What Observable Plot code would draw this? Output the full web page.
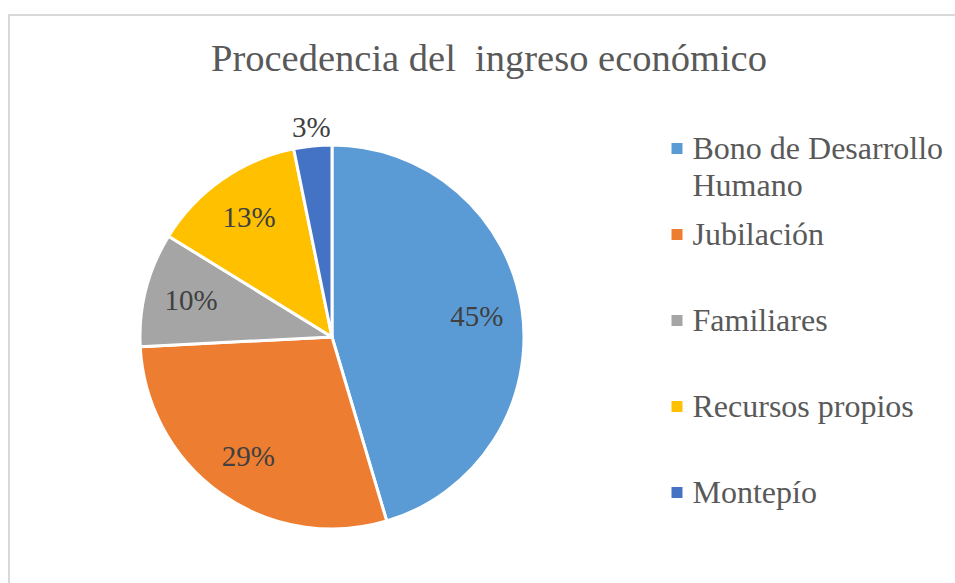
<!DOCTYPE html>
<html><head><meta charset="utf-8">
<script src="https://cdn.jsdelivr.net/npm/d3@7"></script>
<script src="https://cdn.jsdelivr.net/npm/@observablehq/plot@0.6"></script>
<style>
body{margin:0;background:#fff;}
#wrap{position:relative;width:955px;height:583px;overflow:hidden;background:#fff;}
#frame{position:absolute;left:8px;top:14px;width:1000px;height:700px;border:2px solid #d9d9d9;box-sizing:border-box;}
#title{position:absolute;left:0;top:39px;width:978px;text-align:center;font-family:"Liberation Serif","Times New Roman",Times,serif;font-size:38.5px;line-height:1;color:#595959;white-space:pre;}
#pie,#legend{position:absolute;top:0;}
#pie{left:0;} #legend{left:660px;}
#wrap svg text{font-family:"Liberation Serif","Times New Roman",Times,serif !important;}
</style></head><body>
<div id="wrap"><div id="frame"></div><div id="title"></div><div id="pie"></div><div id="legend"></div></div>
<script>
const title = "Procedencia del  ingreso económico";
const categories = ["Bono de Desarrollo Humano", "Jubilación", "Familiares", "Recursos propios", "Montepío"];
const values = [45.4, 28.8, 9.6, 13.0, 3.2];
const colors = ["#5B9BD5", "#ED7D31", "#A5A5A5", "#FFC000", "#4472C4"];

document.getElementById("title").textContent = title;

const serif = "'Liberation Serif', 'Times New Roman', Times, serif";
const data = categories.map((c, i) => ({category: c, value: values[i]}));
const total = d3.sum(values);
const arcs = d3.pie().sort(null).value(d => d.value)(data);
const colorScale = Plot.scale({color: {type: "ordinal", domain: categories, range: colors}});

const labels = arcs.map(a => {
  const mid = (a.startAngle + a.endAngle) / 2;
  const f = a.data.value < 5 ? 1.1 : 0.76;
  return {x: Math.sin(mid) * f, y: Math.cos(mid) * f, text: Math.round(a.data.value / total * 100) + "%"};
});

const pie = Plot.plot({
  width: 660, height: 583,
  margin: 0,
  x: {domain: [-1, 1], range: [140, 524], axis: null},
  y: {domain: [-1, 1], range: [529, 145], axis: null},
  style: {fontFamily: serif, background: "transparent"},
  marks: [
    (index, scales) => {
      const cx = scales.x(0), cy = scales.y(0), R = scales.x(1) - scales.x(0);
      const arc = d3.arc().innerRadius(0).outerRadius(R);
      const g = d3.create("svg:g").attr("transform", `translate(${cx},${cy})`);
      g.selectAll("path").data(arcs).join("path")
        .attr("d", arc)
        .attr("fill", d => colorScale.apply(d.data.category))
        .attr("stroke", "white")
        .attr("stroke-width", 3)
        .attr("stroke-linejoin", "round");
      return g.node();
    },
    Plot.text(labels, {x: "x", y: "y", text: "text", fontSize: 29, fill: "#404040", fontFamily: serif})
  ]
});
document.getElementById("pie").appendChild(pie);

const legend = Plot.plot({
  width: 295, height: 583,
  margin: 0,
  x: {domain: [0, 1], range: [0, 295], axis: null},
  y: {type: "point", domain: categories, range: [147.5, 492.5], padding: 0, axis: null},
  color: {domain: categories, range: colors},
  style: {fontFamily: serif, background: "transparent"},
  marks: [
    Plot.dot(categories, {x: 0, y: d => d, fill: d => d, symbol: "square", r: 6.2, dx: 16.5}),
    Plot.text(categories, {x: 0, y: d => d, text: d => d, dx: 32, dy: -15.5, textAnchor: "start", lineAnchor: "top",
      lineWidth: 9.5, lineHeight: 1.16, fontSize: 32, fill: "#595959", fontFamily: serif})
  ]
});
document.getElementById("legend").appendChild(legend);
</script>
</body></html>
